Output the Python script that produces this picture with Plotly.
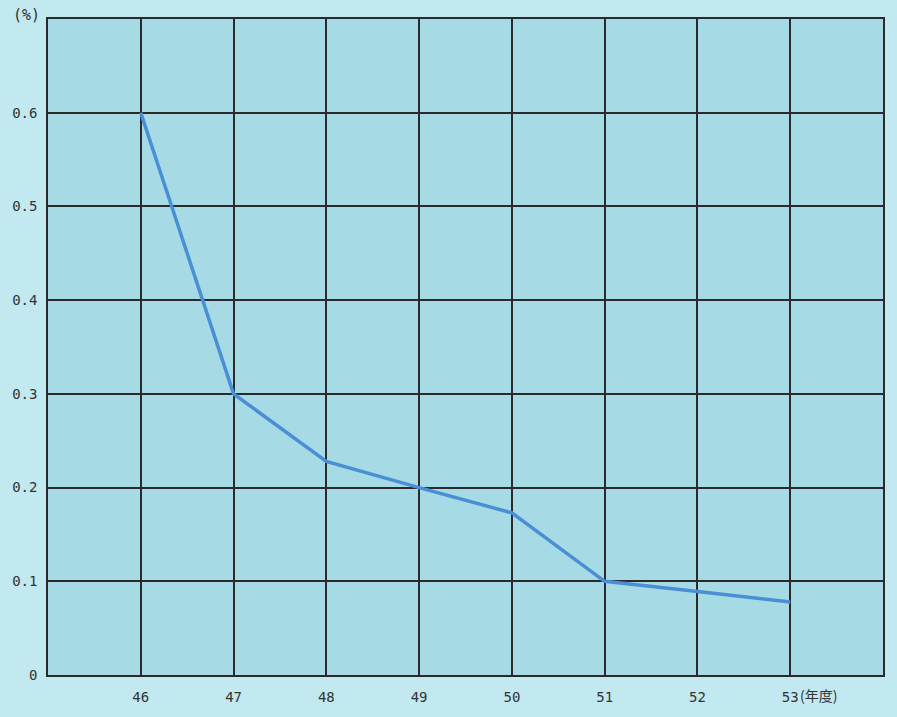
import plotly.graph_objects as go

years = [46, 47, 48, 49, 50, 51, 52, 53]
rates = [0.60, 0.30, 0.228, 0.20, 0.173, 0.10, 0.089, 0.078]
x_tick_labels = ["46", "47", "48", "49", "50", "51", "52", "53"]
y_ticks = [0, 0.1, 0.2, 0.3, 0.4, 0.5, 0.6]
y_tick_labels = ["0", "0.1", "0.2", "0.3", "0.4", "0.5", "0.6"]

fig = go.Figure()
fig.add_trace(go.Scatter(
    x=years, y=rates, mode="lines",
    line=dict(color="#4a8fd6", width=3.5),
    hoverinfo="x+y", showlegend=False,
))

fig.update_layout(
    width=897, height=717,
    margin=dict(l=48, r=14, t=19, b=40),
    paper_bgcolor="#c2e8f0",
    plot_bgcolor="#a6dbe5",
    font=dict(family="DejaVu Sans Mono, monospace", size=14, color="#333333"),
)
fig.update_xaxes(
    range=[45, 54], tickmode="array", tickvals=years, ticktext=x_tick_labels,
    showgrid=True, gridcolor="#2a2a2a", gridwidth=1.5,
    showline=True, linecolor="#2a2a2a", linewidth=1.5, mirror=True,
    zeroline=False, ticks="", ticklabelstandoff=8,
)
fig.update_yaxes(
    range=[0, 0.7], tickmode="array", tickvals=y_ticks, ticktext=y_tick_labels,
    showgrid=True, gridcolor="#2a2a2a", gridwidth=1.5,
    showline=True, linecolor="#2a2a2a", linewidth=1.5, mirror=True,
    zeroline=False, ticks="", ticklabelstandoff=6,
)
fig.add_annotation(x=0, y=1, xref="paper", yref="paper", text="(%)",
                   showarrow=False, xanchor="right", yanchor="middle",
                   xshift=-6, yshift=4, font=dict(size=15, color="#333333"))
fig.add_annotation(x=53, y=0, xref="x", yref="paper", text="(年度)",
                   showarrow=False, xanchor="left", yanchor="top",
                   xshift=8, yshift=-8,
                   font=dict(family="Noto Sans CJK JP", size=14, color="#333333"))

fig.write_html("out.html", config={"displayModeBar": False},
               post_script="document.body.style.margin='0';")
